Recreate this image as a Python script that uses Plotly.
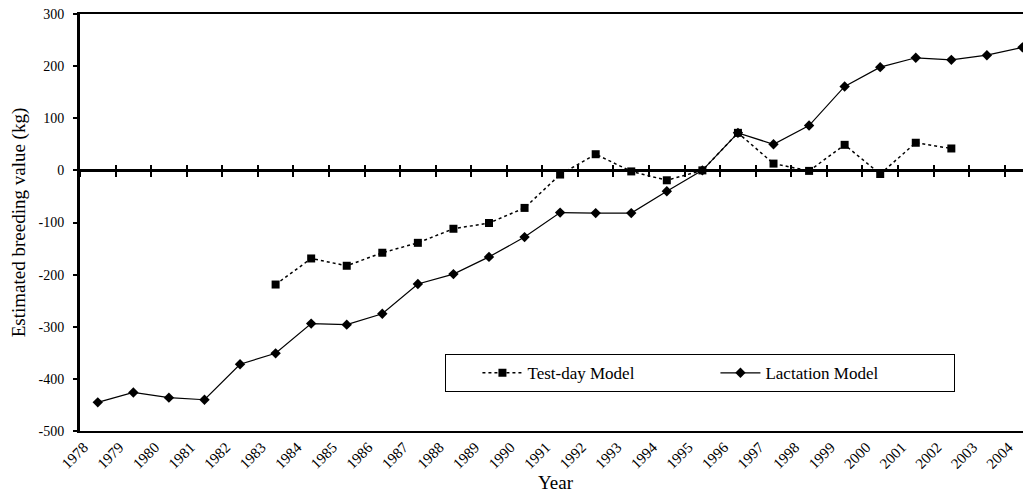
import plotly.graph_objects as go

years = [str(y) for y in range(1978, 2005)]
test_day = [None, None, None, None, None,
            -219, -169, -183, -158, -139, -112, -101, -72, -8, 31, -2, -19, 0,
            72, 13, -1, 49, -7, 53, 42,
            None, None]
lactation = [-445, -426, -436, -440, -372, -351, -294, -296, -275, -218, -199,
             -166, -128, -81, -82, -82, -40, 0, 72, 50, 86, 161, 198, 216,
             212, 221, 236]
y_ticks = [-500, -400, -300, -200, -100, 0, 100, 200, 300]
y_tick_labels = [str(v) for v in y_ticks]

FONT = "Liberation Serif, Times New Roman, serif"
n = len(years)
x_range = [-0.5, n - 0.76]
boundaries = [i - 0.5 for i in range(n + 1)]

fig = go.Figure()
fig.add_trace(go.Scatter(
    x=years, y=test_day, name="Test-day Model", mode="lines+markers",
    line=dict(color="black", width=1.5, dash="dot"),
    marker=dict(symbol="square", size=8, color="black"),
    connectgaps=False,
))
fig.add_trace(go.Scatter(
    x=years, y=lactation, name="Lactation Model", mode="lines+markers",
    line=dict(color="black", width=1.2),
    marker=dict(symbol="diamond", size=8, color="black"),
))
# empty helper traces so the zero-line axes (with crossing ticks) are drawn
for ax in ("x2", "x3"):
    fig.add_trace(go.Scatter(x=[], y=[], xaxis=ax, yaxis="y",
                             showlegend=False, hoverinfo="skip"))

common_zero = dict(
    overlaying="x", anchor="free", position=500 / 800, side="bottom",
    type="linear", range=x_range, showline=True, linecolor="black",
    linewidth=2.5, tickvals=boundaries, showticklabels=False,
    ticklen=5, tickwidth=2, tickcolor="black", showgrid=False, zeroline=False,
    automargin=False,
)

fig.update_layout(
    width=1023, height=489,
    margin=dict(l=72, r=0, t=6, b=66),
    paper_bgcolor="white", plot_bgcolor="white",
    font=dict(family=FONT, color="black"),
    showlegend=True,
    legend=dict(
        orientation="h", x=0.384, xanchor="left", y=0.184, yanchor="top",
        bordercolor="black", borderwidth=1, bgcolor="white",
        font=dict(family=FONT, size=17), entrywidth=183, itemwidth=40,
        title=dict(text="&nbsp;" * 5, side="left", font=dict(size=17)),
    ),
    xaxis=dict(
        type="category", categoryorder="array", categoryarray=years,
        range=x_range, showline=True, linecolor="black", linewidth=1.5,
        mirror=True, ticks="", tickangle=-45, showgrid=False,
        automargin=False, ticklabelshift=-14, ticklabeloverflow="allow",
        tickfont=dict(family=FONT, size=15),
        title=dict(text="Year", font=dict(family=FONT, size=19), standoff=4),
    ),
    xaxis2=dict(ticks="outside", **common_zero),
    xaxis3=dict(ticks="inside", **common_zero),
    yaxis=dict(
        range=[-500, 300], tickvals=y_ticks, ticktext=y_tick_labels,
        showline=True, linecolor="black",
        linewidth=3, ticks="outside", ticklen=4, tickwidth=2,
        tickcolor="black", showgrid=False, zeroline=False,
        automargin=False, ticklabelstandoff=6, ticklabeloverflow="allow",
        tickfont=dict(family=FONT, size=14),
        title=dict(text="Estimated breeding value (kg)",
                   font=dict(family=FONT, size=19), standoff=10),
    ),
)

fig.write_html("out.html")
